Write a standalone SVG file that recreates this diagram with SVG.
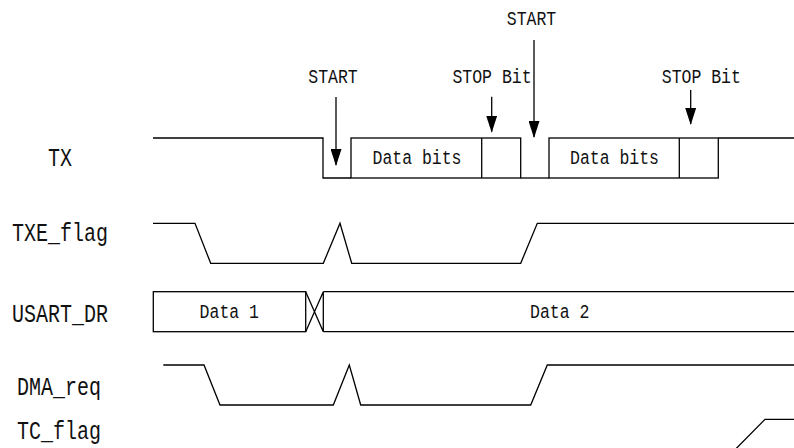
<svg xmlns="http://www.w3.org/2000/svg" width="794" height="448" viewBox="0 0 794 448">
<style>
.w{fill:none;stroke:#000;stroke-width:1.3;stroke-linejoin:miter}
.lbl{font-family:"Liberation Mono","DejaVu Sans Mono",monospace;font-size:20px;fill:#111;text-anchor:middle}
.sm{font-family:"Liberation Mono","DejaVu Sans Mono",monospace;font-size:16.5px;fill:#111;text-anchor:middle}
.arr{fill:none;stroke:#000;stroke-width:1.3;marker-end:url(#ah)}
</style>
<defs>
<marker id="ah" markerUnits="userSpaceOnUse" markerWidth="17" markerHeight="11" refX="16" refY="5.5" orient="auto" viewBox="0 0 17 11"><path d="M0,0 L17,5.5 L0,11 z" fill="#000"/></marker>
</defs>
<rect width="794" height="448" fill="#fff"/>
<g id="labels">
<text class="lbl" transform="translate(60,166) scale(1,1.3)">TX</text>
<text class="lbl" transform="translate(60,241) scale(1,1.3)">TXE_flag</text>
<text class="lbl" transform="translate(60,321.7) scale(1,1.3)">USART_DR</text>
<text class="lbl" transform="translate(59,395) scale(1,1.3)">DMA_req</text>
<text class="lbl" transform="translate(59,439) scale(1,1.3)">TC_flag</text>
</g>
<g id="tx">
<path class="w" d="M153,138 H323 V178 H351"/>
<rect class="w" x="351" y="138" width="169.7" height="40"/>
<line class="w" x1="481.7" y1="138" x2="481.7" y2="178"/>
<path class="w" d="M520.7,178 H549"/>
<rect class="w" x="549" y="138" width="169.3" height="40"/>
<line class="w" x1="679.3" y1="138" x2="679.3" y2="178"/>
<path class="w" d="M718.3,138 H794"/>
<text class="sm" transform="translate(417,164.3) scale(1,1.25)">Data bits</text>
<text class="sm" transform="translate(614.5,164.3) scale(1,1.25)">Data bits</text>
</g>
<g id="txe_flag">
<path class="w" d="M153,223.3 H195 L210.7,263.3 H323.3 L340,223.3 L351.7,263.3 H520.7 L537.3,223.3 H794"/>
</g>
<g id="usart_dr">
<rect class="w" x="153.3" y="291.7" width="152.4" height="40"/>
<path class="w" d="M305.7,291.7 L323.3,331.7 M305.7,331.7 L323.3,291.7 M323.3,291.7 V331.7 M323.3,291.7 H794 M323.3,331.7 H794"/>
<text class="sm" transform="translate(229.3,317.7) scale(1,1.25)">Data 1</text>
<text class="sm" transform="translate(559.7,317.7) scale(1,1.25)">Data 2</text>
</g>
<g id="dma_req">
<path class="w" d="M163.3,365 H204 L220,405 H333.3 L349.3,365 L360.7,405 H530.7 L547.3,365 H794"/>
</g>
<g id="tc_flag">
<path class="w" d="M734.7,450 L765,419.3 H794"/>
</g>
<g id="connectors">
<line class="arr" x1="336" y1="97" x2="336" y2="165"/>
<line class="arr" x1="491.7" y1="96.7" x2="491.7" y2="131.7"/>
<line class="arr" x1="534" y1="40" x2="534" y2="137"/>
<line class="arr" x1="690.7" y1="90" x2="690.7" y2="124"/>
</g>
<g id="markers">
<text class="sm" transform="translate(333,83.3) scale(1,1.25)">START</text>
<text class="sm" transform="translate(492,83.3) scale(1,1.25)">STOP Bit</text>
<text class="sm" transform="translate(531.5,25) scale(1,1.25)">START</text>
<text class="sm" transform="translate(701.3,83.3) scale(1,1.25)">STOP Bit</text>
</g>
</svg>
